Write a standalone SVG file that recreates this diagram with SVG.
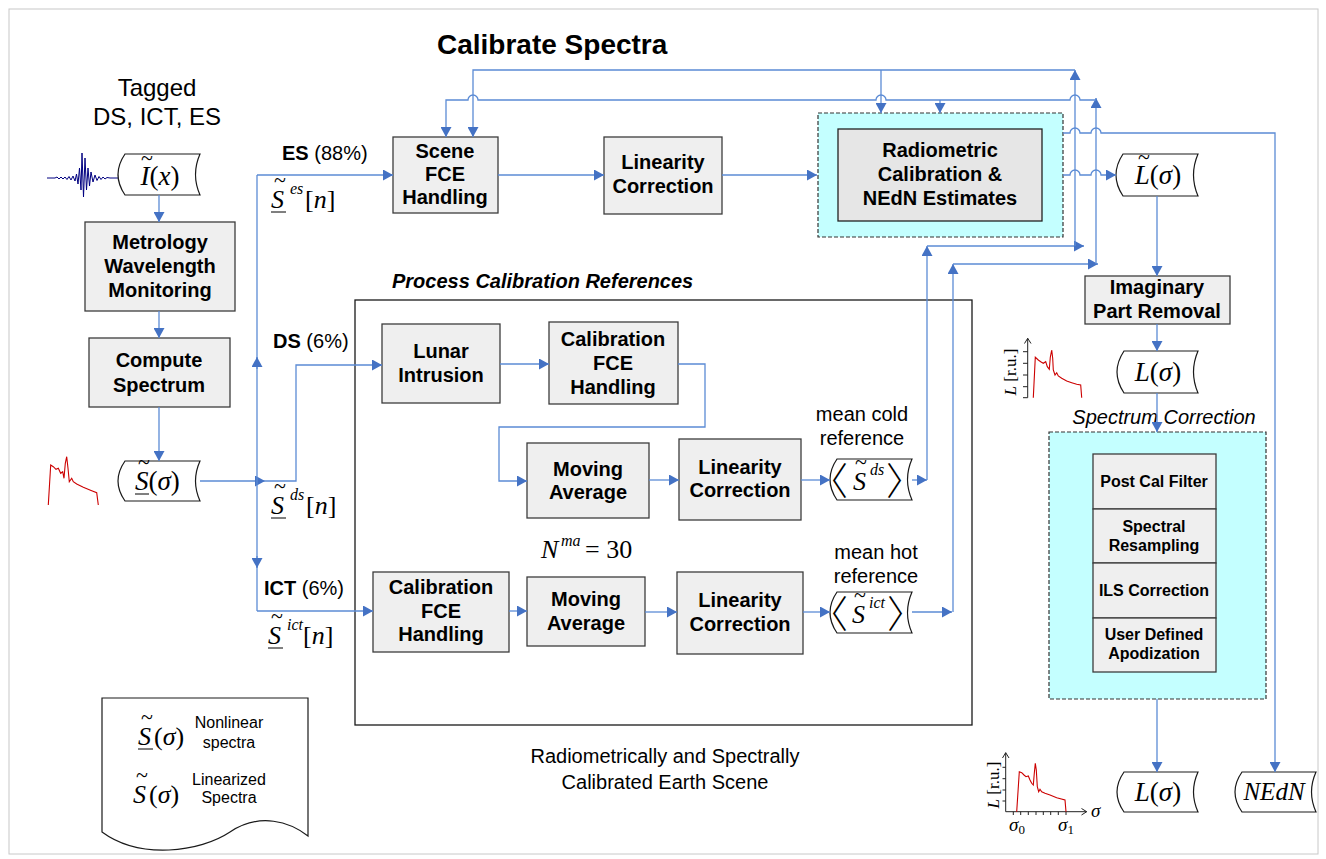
<svg xmlns="http://www.w3.org/2000/svg" width="1326" height="859" viewBox="0 0 1326 859">
<defs>
<style>
.bx{fill:#efefef;stroke:#3c3c3c;stroke-width:1.3}
.t{font-family:"Liberation Sans",Arial,sans-serif;font-weight:bold;font-size:20px;text-anchor:middle;fill:#000}
.ts{font-size:16px}
.n{font-family:"Liberation Sans",Arial,sans-serif;font-size:20px;fill:#000}
.c{fill:none;stroke:#5b8bd5;stroke-width:1.3}
.doc{fill:#fff;stroke:#1a1a1a;stroke-width:1.2}
.m{font-family:"Liberation Serif","Times New Roman",serif;font-size:27px;fill:#000}
.sup{font-family:"Liberation Serif","Times New Roman",serif;font-size:16px;font-style:italic;fill:#000}
.tl{font-family:"Liberation Serif","Times New Roman",serif;font-size:22px;text-anchor:middle;fill:#000}
.ang{font-family:"Noto Sans CJK JP","Noto Sans CJK SC",sans-serif;font-size:38px;font-weight:300;fill:#000}
.i{font-style:italic}
.ul{stroke:#000;stroke-width:1}
.sp{fill:none;stroke:#cc0000;stroke-width:1.1}
.ax{fill:none;stroke:#222;stroke-width:1}
.cy{fill:#c4ffff;stroke:#333;stroke-width:1.2;stroke-dasharray:4,2}
.pl{font-family:"Liberation Serif","Times New Roman",serif;font-size:17px;fill:#000}
</style>
<marker id="ah" viewBox="0 0 10 11" refX="10" refY="5.5" markerWidth="10" markerHeight="11" markerUnits="userSpaceOnUse" orient="auto">
<path d="M0,0 L10,5.5 L0,11 z" fill="#4472c4"/>
</marker>
</defs>
<rect x="9" y="9" width="1309" height="845" fill="#fff" stroke="#c8c8c8"/>

<g id="title">
<text x="437" y="54" style="font-family:'Liberation Sans',Arial,sans-serif;font-weight:bold;font-size:28px">Calibrate Spectra</text>
<text x="157" y="96" text-anchor="middle" class="n" style="font-size:24px">Tagged</text>
<text x="157" y="125" text-anchor="middle" class="n" style="font-size:24px">DS, ICT, ES</text>
</g>

<g id="interferogram-input">
<polyline fill="none" stroke="#000080" stroke-width="1" points="47,178 55,178 57,177 59,179 61,177 63,179 65,177 67,179.5 69,176.5 71,180 73,176 75,181 76.5,174 78,184 79.5,168 81,190 82,153 83.5,197 85,158 86.5,190 88,168 89.5,186 91,172 93,182 95,175 97,180.5 99,176.5 101,179.5 103,177 105,179 107,177.5 110,178 118,178"/>
<path class="doc" d="M125,154H200Q191,174.5 200,195H125Q111,174.5 125,154Z"/>
<text class="m" x="160" y="185" text-anchor="middle"><tspan class="i">I</tspan>(<tspan class="i">x</tspan>)</text>
<text class="tl" x="147" y="165">~</text>
</g>

<g id="metrology">
<rect class="bx" x="85" y="222" width="150" height="89"/>
<text class="t" x="160" y="249">Metrology</text>
<text class="t" x="160" y="273">Wavelength</text>
<text class="t" x="160" y="297">Monitoring</text>
</g>

<g id="compute-spectrum">
<rect class="bx" x="89" y="338" width="141" height="69"/>
<text class="t" x="159" y="367">Compute</text>
<text class="t" x="159" y="392">Spectrum</text>
</g>

<g id="nonlinear-spectrum">
<polyline class="sp" points="48.3,505 50.7,465 53.3,466.7 56,469.3 58.3,468.3 60.7,473.3 62.7,471.7 64,478.3 65.3,463.3 66.7,456.7 68,468.3 69.3,481.7 71.7,478.3 73.3,481.7 76.7,484 83.3,487.3 91.7,490.7 96.7,492.7 98.3,505"/>
<path class="doc" d="M125,461H200Q191,481 200,501H125Q111,481 125,461Z"/>
<text class="m" x="135" y="490"><tspan class="i">S</tspan>(<tspan class="i">σ</tspan>)</text>
<text class="tl" x="144" y="469">~</text>
<line class="ul" x1="135" y1="494" x2="149" y2="494"/>
</g>

<g id="branch-labels">
<text class="n" x="282" y="160"><tspan font-weight="bold">ES</tspan> (88%)</text>
<text class="m" x="271" y="208" style="font-size:26px"><tspan class="i">S</tspan></text>
<text class="tl" x="280" y="187">~</text>
<line class="ul" x1="271" y1="212" x2="286" y2="212"/>
<text class="sup" x="290" y="194">es</text>
<text class="m" x="305" y="208" style="font-size:26px">[<tspan class="i">n</tspan>]</text>

<text class="n" x="273" y="348"><tspan font-weight="bold">DS</tspan> (6%)</text>
<text class="m" x="271" y="514" style="font-size:26px"><tspan class="i">S</tspan></text>
<text class="tl" x="280" y="493">~</text>
<line class="ul" x1="271" y1="518" x2="286" y2="518"/>
<text class="sup" x="290" y="500">ds</text>
<text class="m" x="306" y="514" style="font-size:26px">[<tspan class="i">n</tspan>]</text>

<text class="n" x="264" y="595"><tspan font-weight="bold">ICT</tspan> (6%)</text>
<text class="m" x="268" y="644" style="font-size:26px"><tspan class="i">S</tspan></text>
<text class="tl" x="277" y="623">~</text>
<line class="ul" x1="268" y1="648" x2="283" y2="648"/>
<text class="sup" x="287" y="630">ict</text>
<text class="m" x="303" y="644" style="font-size:26px">[<tspan class="i">n</tspan>]</text>
</g>

<g id="scene-fce">
<rect class="bx" x="393" y="137" width="105" height="76"/>
<text class="t" x="445" y="158">Scene</text>
<text class="t" x="445" y="181">FCE</text>
<text class="t" x="445" y="204">Handling</text>
</g>

<g id="linearity-scene">
<rect class="bx" x="604" y="137" width="118" height="77"/>
<text class="t" x="663" y="169">Linearity</text>
<text class="t" x="663" y="193">Correction</text>
</g>

<g id="radiometric">
<rect class="cy" x="818" y="113" width="245" height="124"/>
<rect x="838" y="129" width="204" height="92" fill="#e6e6e6" stroke="#222" stroke-width="1.3"/>
<text class="t" x="940" y="157">Radiometric</text>
<text class="t" x="940" y="181">Calibration &amp;</text>
<text class="t" x="940" y="205">NEdN Estimates</text>
</g>

<g id="l-tilde">
<path class="doc" d="M1123,154H1198Q1189,175 1198,196H1123Q1109,175 1123,154Z"/>
<text class="m" x="1158" y="184" text-anchor="middle"><tspan class="i">L</tspan>(<tspan class="i">σ</tspan>)</text>
<text class="tl" x="1144" y="164">~</text>
</g>

<g id="imaginary">
<rect class="bx" x="1085" y="276" width="145" height="48"/>
<text class="t" x="1157" y="294">Imaginary</text>
<text class="t" x="1157" y="318">Part Removal</text>
</g>

<g id="l-sigma">
<path class="doc" d="M1124,351H1198Q1189,372 1198,393H1124Q1110,372 1124,351Z"/>
<text class="m" x="1158" y="381" text-anchor="middle"><tspan class="i">L</tspan>(<tspan class="i">σ</tspan>)</text>
</g>

<g id="plot-mid">
<polyline class="ax" points="1027.7,397.7 1027.7,338.3"/>
<polyline class="ax" points="1024.5,343.5 1027.7,338.3 1031,343.5"/>
<path class="ax" d="M1023,351.7H1027.7M1023,363.3H1027.7M1023,375H1027.7M1023,386.7H1027.7M1023,397.7H1027.7"/>
<polyline class="sp" points="1033.3,397.7 1035.3,357.3 1038.3,360 1040.7,361.7 1043.3,363.3 1045.7,361.7 1047.3,366.7 1049.3,369.3 1050.3,357.3 1051.7,350 1052.7,358.3 1053.3,370 1055,375 1056.7,372.7 1058.3,376 1061.7,378.3 1066.7,381 1071.7,382.7 1076.7,384.3 1080.7,385 1081.7,397.7"/>
<text class="pl" transform="translate(1016,372) rotate(-90)" text-anchor="middle"><tspan font-style="italic">L</tspan> [r.u.]</text>
</g>

<g id="spectrum-correction">
<rect class="cy" x="1049" y="432" width="217" height="267"/>
<text class="n" x="1164" y="424" text-anchor="middle" font-style="italic">Spectrum Correction</text>
<rect class="bx" x="1093" y="454" width="123" height="55" stroke-width="1.6"/>
<rect class="bx" x="1093" y="509" width="123" height="54" stroke-width="1.6"/>
<rect class="bx" x="1093" y="563" width="123" height="55" stroke-width="1.6"/>
<rect class="bx" x="1093" y="618" width="123" height="54" stroke-width="1.6"/>
<text class="t ts" x="1154" y="487">Post Cal Filter</text>
<text class="t ts" x="1154" y="532">Spectral</text>
<text class="t ts" x="1154" y="551">Resampling</text>
<text class="t ts" x="1154" y="596">ILS Correction</text>
<text class="t ts" x="1154" y="640">User Defined</text>
<text class="t ts" x="1154" y="659">Apodization</text>
</g>

<g id="output-l">
<path class="doc" d="M1124,772H1198Q1189,792 1198,812H1124Q1110,792 1124,772Z"/>
<text class="m" x="1158" y="801" text-anchor="middle"><tspan class="i">L</tspan>(<tspan class="i">σ</tspan>)</text>
</g>

<g id="output-nedn">
<path class="doc" d="M1242,772H1316Q1307,792 1316,812H1242Q1228,792 1242,772Z"/>
<text class="m i" x="1274" y="800" text-anchor="middle" style="font-size:25px">NEdN</text>
</g>

<g id="plot-bottom">
<polyline class="ax" points="1005.7,811.7 1005.7,752.7"/>
<polyline class="ax" points="1002.5,758 1005.7,752.7 1009,758"/>
<polyline class="ax" points="1005.7,811.7 1086.7,811.7"/>
<polyline class="ax" points="1081.5,808.5 1086.7,811.7 1081.5,815"/>
<path class="ax" d="M1002.5,767.3H1005.7M1002.5,778.7H1005.7M1002.5,790H1005.7M1002.5,801H1005.7M1013.3,811.7V815M1020.7,811.7V815M1028.3,811.7V815M1036,811.7V815M1043.3,811.7V815M1050.7,811.7V815M1058.3,811.7V815M1066,811.7V815"/>
<polyline class="sp" points="1016.7,811.7 1019.3,771.7 1021.7,772.7 1024,775 1026,776.7 1028.3,776 1030,780 1031.7,783.3 1033.3,785 1034.3,773.3 1035.3,763.3 1036.3,770 1037.3,786.7 1038.7,791.7 1040,789.3 1041.7,791.7 1045,793.3 1050,795 1056.7,797.7 1065,800 1066,811.7"/>
<text class="pl" transform="translate(999,785) rotate(-90)" text-anchor="middle"><tspan font-style="italic">L</tspan> [r.u.]</text>
<text class="pl" x="1091" y="817" font-style="italic" style="font-size:19px">σ</text>
<text class="pl" x="1009" y="831" style="font-size:19px"><tspan font-style="italic">σ</tspan><tspan font-size="13" dy="3">0</tspan></text>
<text class="pl" x="1058" y="831" style="font-size:19px"><tspan font-style="italic">σ</tspan><tspan font-size="13" dy="3">1</tspan></text>
</g>

<g id="process-calibration">
<rect x="355" y="300" width="617" height="425" fill="none" stroke="#1a1a1a" stroke-width="1.3"/>
<text x="392" y="288" style="font-family:'Liberation Sans',Arial,sans-serif;font-weight:bold;font-style:italic;font-size:20px">Process Calibration References</text>
</g>

<g id="lunar">
<rect class="bx" x="382" y="324" width="118" height="79"/>
<text class="t" x="441" y="358">Lunar</text>
<text class="t" x="441" y="382">Intrusion</text>
</g>

<g id="cal-fce-ds">
<rect class="bx" x="549" y="322" width="129" height="82"/>
<text class="t" x="613" y="346">Calibration</text>
<text class="t" x="613" y="370">FCE</text>
<text class="t" x="613" y="394">Handling</text>
</g>

<g id="moving-avg-ds">
<rect class="bx" x="527" y="443" width="122" height="75"/>
<text class="t" x="588" y="476">Moving</text>
<text class="t" x="588" y="499">Average</text>
</g>

<g id="linearity-ds">
<rect class="bx" x="679" y="439" width="122" height="81"/>
<text class="t" x="740" y="474">Linearity</text>
<text class="t" x="740" y="497">Correction</text>
</g>

<g id="mean-cold">
<text class="n" x="862" y="421" text-anchor="middle">mean cold</text>
<text class="n" x="862" y="445" text-anchor="middle">reference</text>
<path class="doc" d="M837,459H912Q903,479.5 912,500H837Q823,479.5 837,459Z"/>
<text class="ang" x="810" y="495">〈</text>
<text class="m i" x="853" y="490" style="font-size:26px">S</text>
<text class="tl" x="861" y="469">~</text>
<text class="sup" x="870" y="475">ds</text>
<text class="ang" x="886" y="495">〉</text>
</g>

<g id="nma">
<text class="m" x="541" y="558" style="font-size:26px"><tspan class="i">N</tspan></text>
<text class="sup" x="561" y="546">ma</text>
<text class="m" x="585" y="558" style="font-size:26px">= 30</text>
</g>

<g id="cal-fce-ict">
<rect class="bx" x="373" y="572" width="136" height="80"/>
<text class="t" x="441" y="594">Calibration</text>
<text class="t" x="441" y="618">FCE</text>
<text class="t" x="441" y="641">Handling</text>
</g>

<g id="moving-avg-ict">
<rect class="bx" x="527" y="577" width="118" height="69"/>
<text class="t" x="586" y="606">Moving</text>
<text class="t" x="586" y="630">Average</text>
</g>

<g id="linearity-ict">
<rect class="bx" x="677" y="572" width="126" height="82"/>
<text class="t" x="740" y="607">Linearity</text>
<text class="t" x="740" y="631">Correction</text>
</g>

<g id="mean-hot">
<text class="n" x="876" y="559" text-anchor="middle">mean hot</text>
<text class="n" x="876" y="583" text-anchor="middle">reference</text>
<path class="doc" d="M837,592H912Q903,612.5 912,633H837Q823,612.5 837,592Z"/>
<text class="ang" x="810" y="628">〈</text>
<text class="m i" x="852" y="623" style="font-size:26px">S</text>
<text class="tl" x="860" y="602">~</text>
<text class="sup" x="869" y="608">ict</text>
<text class="ang" x="887" y="628">〉</text>
</g>

<g id="earth-scene-caption">
<text class="n" x="665" y="763" text-anchor="middle">Radiometrically and Spectrally</text>
<text class="n" x="665" y="789" text-anchor="middle">Calibrated Earth Scene</text>
</g>

<g id="legend">
<path class="doc" d="M102,698H308V836C290,822 260,812 230,832C200,852 140,860 102,832Z"/>
<text class="m i" x="138" y="745" style="font-size:26px">S</text>
<text class="m" x="154" y="745" style="font-size:26px">(<tspan class="i">σ</tspan>)</text>
<text class="tl" x="147" y="724">~</text>
<line class="ul" x1="138" y1="749" x2="153" y2="749"/>
<text class="n" x="229" y="728" text-anchor="middle" style="font-size:16px">Nonlinear</text>
<text class="n" x="229" y="748" text-anchor="middle" style="font-size:16px">spectra</text>
<text class="m i" x="133" y="803" style="font-size:26px">S</text>
<text class="m" x="149" y="803" style="font-size:26px">(<tspan class="i">σ</tspan>)</text>
<text class="tl" x="142" y="782">~</text>
<text class="n" x="229" y="785" text-anchor="middle" style="font-size:16px">Linearized</text>
<text class="n" x="229" y="803" text-anchor="middle" style="font-size:16px">Spectra</text>
</g>

<g id="connectors" class="c">
<path d="M159,195V222" marker-end="url(#ah)"/>
<path d="M159,311V338" marker-end="url(#ah)"/>
<path d="M159,407V461" marker-end="url(#ah)"/>
<path d="M200,481H265" marker-end="url(#ah)"/>
<path d="M265,481H296V365H382" marker-end="url(#ah)"/>
<path d="M257,175V611"/>
<path d="M257,369V357" marker-end="url(#ah)"/>
<path d="M257,556V568" marker-end="url(#ah)"/>
<path d="M257,175H393" marker-end="url(#ah)"/>
<path d="M257,611H373" marker-end="url(#ah)"/>
<path d="M498,175H604" marker-end="url(#ah)"/>
<path d="M722,175H817" marker-end="url(#ah)"/>
<path d="M1063,175H1070a5,5 0 0 1 10,0H1091a5,5 0 0 1 10,0H1116" marker-end="url(#ah)"/>
<path d="M1063,133H1070a5,5 0 0 1 10,0H1091a5,5 0 0 1 10,0H1275V772" marker-end="url(#ah)"/>
<path d="M1157,196V276" marker-end="url(#ah)"/>
<path d="M1157,324V351" marker-end="url(#ah)"/>
<path d="M1157,393V432" marker-end="url(#ah)"/>
<path d="M1157,699V772" marker-end="url(#ah)"/>
<path d="M500,364H549" marker-end="url(#ah)"/>
<path d="M678,364H705V427H499V481H527" marker-end="url(#ah)"/>
<path d="M649,480H679" marker-end="url(#ah)"/>
<path d="M801,480H830" marker-end="url(#ah)"/>
<path d="M912,480H927" marker-end="url(#ah)"/>
<path d="M927,480V246" marker-end="url(#ah)"/>
<path d="M927,246H1084" marker-end="url(#ah)"/>
<path d="M1075,246V70" marker-end="url(#ah)"/>
<path d="M1075,70H473V137" marker-end="url(#ah)"/>
<path d="M881,70V113" marker-end="url(#ah)"/>
<path d="M912,612H952" marker-end="url(#ah)"/>
<path d="M953,612V264" marker-end="url(#ah)"/>
<path d="M953,264H1098" marker-end="url(#ah)"/>
<path d="M1096,264V98" marker-end="url(#ah)"/>
<path d="M1096,100H1080a5,5 0 0 0 -10,0H886a5,5 0 0 0 -10,0H478a5,5 0 0 0 -10,0H446V137" marker-end="url(#ah)"/>
<path d="M940,100V113" marker-end="url(#ah)"/>
<path d="M509,611H527" marker-end="url(#ah)"/>
<path d="M645,612H677" marker-end="url(#ah)"/>
<path d="M803,612H830" marker-end="url(#ah)"/>
</g>
</svg>
